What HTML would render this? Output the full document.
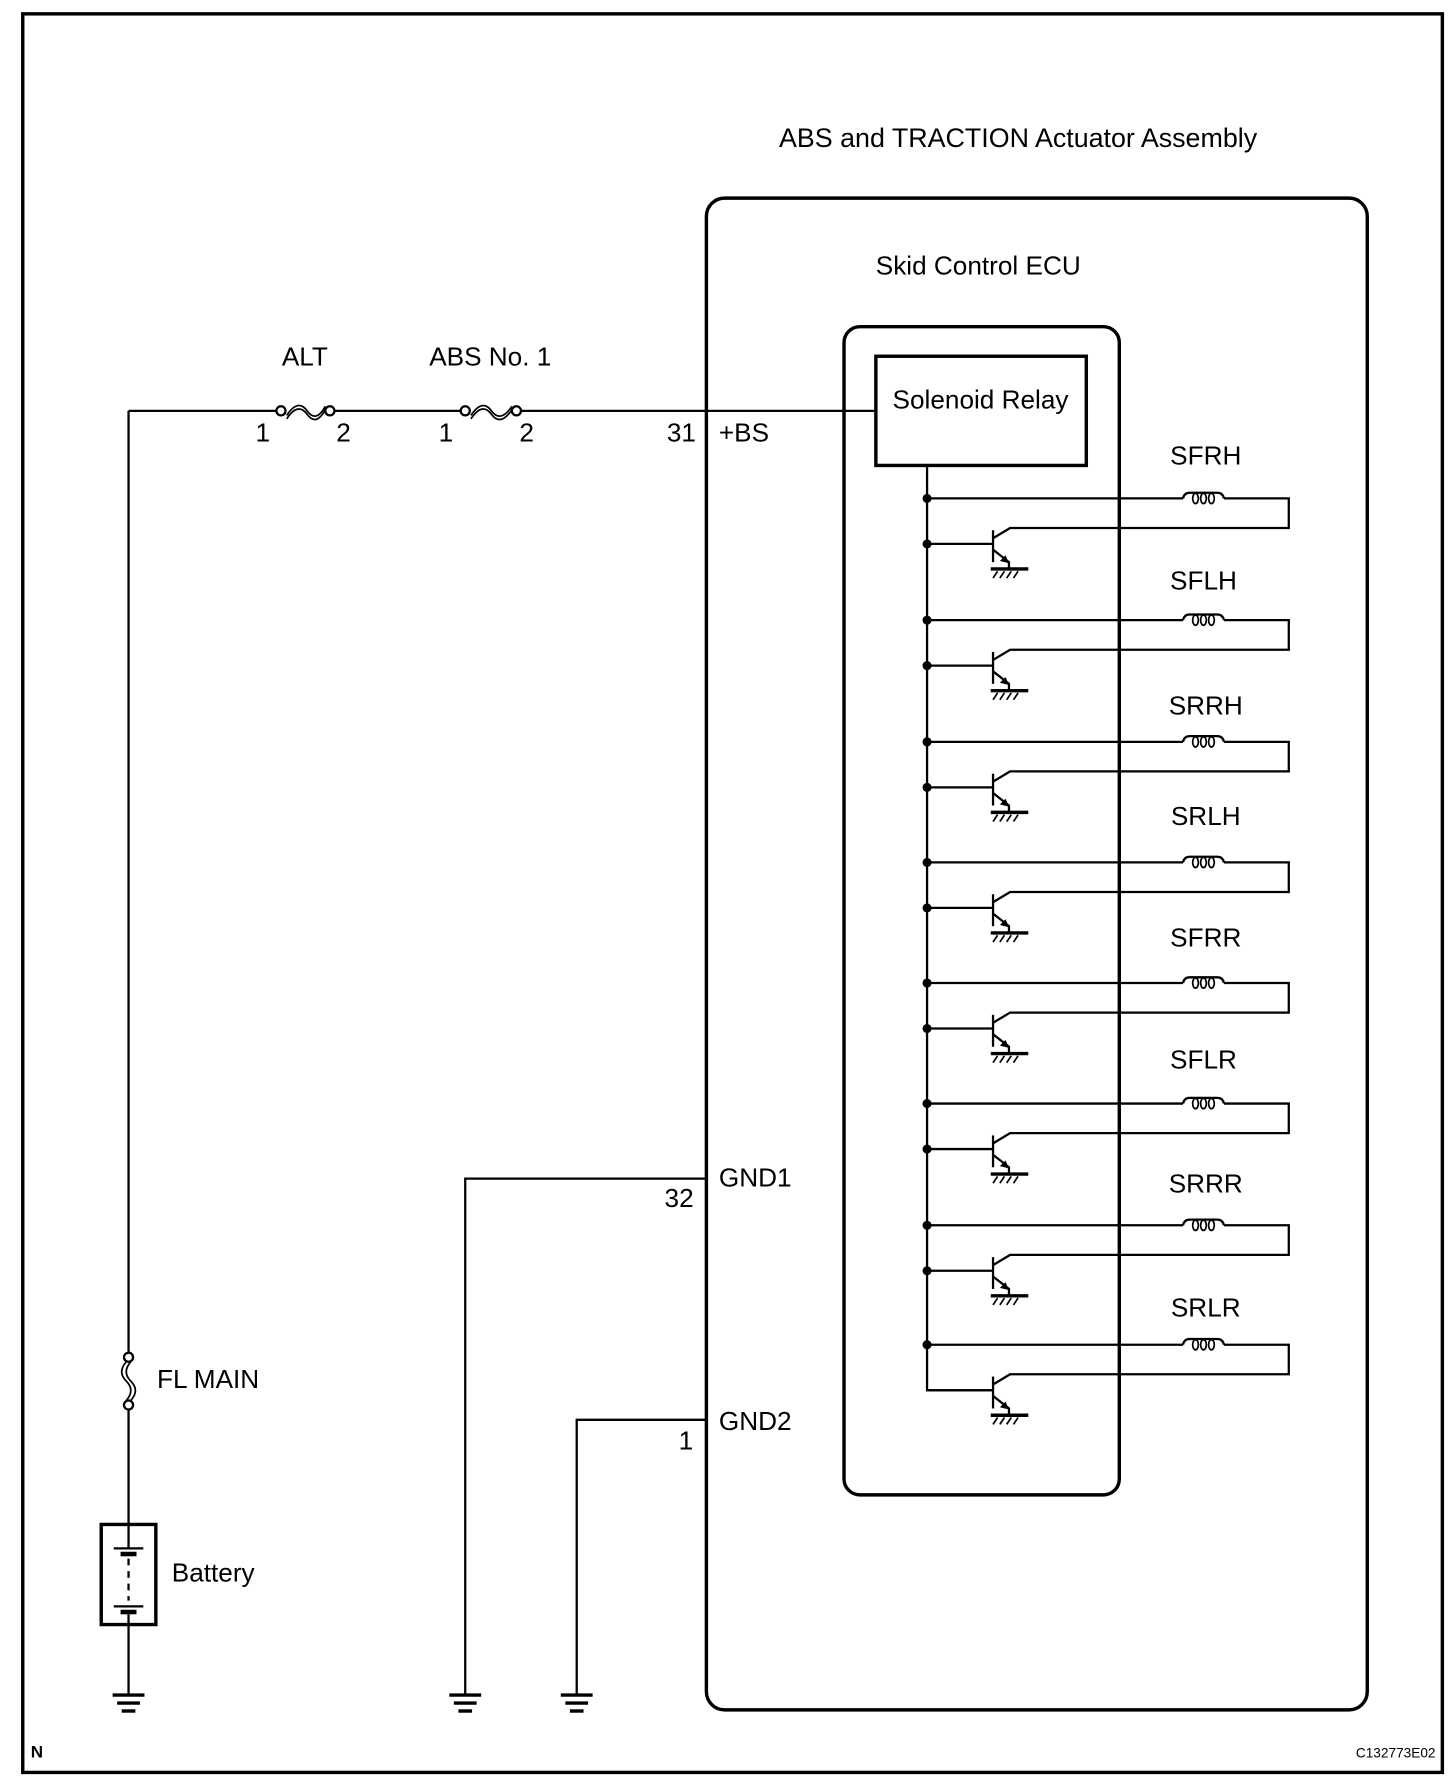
<!DOCTYPE html>
<html><head><meta charset="utf-8"><style>
html,body{margin:0;padding:0;background:#fff}
svg{display:block}
text{font-family:"Liberation Sans",Arial,sans-serif;fill:#000}
</style></head><body>
<svg width="1456" height="1784" viewBox="0 0 1280 1568" xmlns="http://www.w3.org/2000/svg">
<defs>
<g id="chb" fill="none" stroke="#000" stroke-width="2">
  <line x1="815" y1="0" x2="1040" y2="0"/>
  <path d="M1040 0 Q1041 -5 1046 -5 L1070 -5 Q1075 -5 1076 0"/>
  <ellipse cx="1051" cy="0" rx="2.5" ry="4.5" stroke-width="1.5"/>
  <ellipse cx="1058" cy="0" rx="2.5" ry="4.5" stroke-width="1.5"/>
  <ellipse cx="1065" cy="0" rx="2.5" ry="4.5" stroke-width="1.5"/>
  <polyline points="1076,0 1133,0 1133,26 888,26 873,35"/>
  <circle cx="815" cy="0" r="4" fill="#000" stroke="none"/>
  <line x1="815" y1="40" x2="873" y2="40"/>
  <line x1="873" y1="28" x2="873" y2="56"/>
  <polyline points="873,45 887,56 887,62"/>
  <polygon points="887,57 879,55 884,50" fill="#000" stroke="none"/>
  <line x1="871" y1="62" x2="904" y2="62" stroke-width="3"/>
  <path d="M877 64 L873 70 M883 64 L879 70 M889 64 L885 70 M895 64 L891 70" stroke-width="1.5"/>
</g>
<g id="ch">
  <use href="#chb"/>
  <circle cx="815" cy="40" r="4" fill="#000"/>
</g>
<g id="gnd" stroke="#000" stroke-width="3">
  <line x1="-14" y1="0" x2="14" y2="0"/>
  <line x1="-10" y1="7" x2="10" y2="7"/>
  <line x1="-6" y1="14" x2="6" y2="14"/>
</g>
</defs>
<rect x="20" y="12" width="1248" height="1546" fill="none" stroke="#000" stroke-width="3"/>
<text x="895" y="129" font-size="23.6" text-anchor="middle">ABS and TRACTION Actuator Assembly</text>
<rect x="621" y="174" width="581" height="1329" rx="16" fill="none" stroke="#000" stroke-width="3"/>
<text x="860" y="241" font-size="23" text-anchor="middle">Skid Control ECU</text>
<rect x="742" y="287" width="242" height="1027" rx="14" fill="none" stroke="#000" stroke-width="3"/>
<rect x="770" y="313" width="185" height="96" fill="none" stroke="#000" stroke-width="3"/>
<text x="862" y="359" font-size="23" text-anchor="middle">Solenoid Relay</text>
<g fill="none" stroke="#000" stroke-width="2">
  <line x1="113" y1="361" x2="243" y2="361"/>
  <line x1="294" y1="361" x2="405" y2="361"/>
  <line x1="458" y1="361" x2="770" y2="361"/>
  <circle cx="247" cy="361" r="4"/><circle cx="290" cy="361" r="4"/>
  <path d="M252 365 Q262 350 270 361 Q278 372 286 357 M252 368 Q262 353 270 364 Q278 375 286 360" stroke-width="1.5"/>
  <circle cx="409" cy="361" r="4"/><circle cx="454" cy="361" r="4"/>
  <path d="M414 365 Q424 350 432 361 Q440 372 450 357 M414 368 Q424 353 432 364 Q440 375 450 360" stroke-width="1.5"/>
  <line x1="113" y1="361" x2="113" y2="1189"/>
  <circle cx="113" cy="1193" r="4"/><circle cx="113" cy="1235" r="4"/>
  <path d="M111 1197 Q103 1206 111 1214 Q119 1222 111 1231 M115 1197 Q107 1206 115 1214 Q123 1222 115 1231" stroke-width="1.5"/>
  <line x1="113" y1="1239" x2="113" y2="1340"/>
  <rect x="89" y="1340" width="48" height="88" stroke-width="3"/>
  <line x1="113" y1="1340" x2="113" y2="1361"/>
  <line x1="100" y1="1361" x2="126" y2="1361"/>
  <line x1="106" y1="1366" x2="120" y2="1366" stroke-width="4"/>
  <line x1="113" y1="1370" x2="113" y2="1407" stroke-dasharray="6,5"/>
  <line x1="100" y1="1412" x2="126" y2="1412"/>
  <line x1="106" y1="1417" x2="120" y2="1417" stroke-width="4"/>
  <line x1="113" y1="1419" x2="113" y2="1490"/>
  <polyline points="621,1036 409,1036 409,1490"/>
  <polyline points="621,1248 507,1248 507,1490"/>
  <polyline points="815,409 815,1222 873,1222"/>
</g>
<use href="#gnd" x="113" y="1490"/>
<use href="#gnd" x="409" y="1490"/>
<use href="#gnd" x="507" y="1490"/>
<use href="#ch" y="438"/>
<use href="#ch" y="545"/>
<use href="#ch" y="652"/>
<use href="#ch" y="758"/>
<use href="#ch" y="864"/>
<use href="#ch" y="970"/>
<use href="#ch" y="1077"/>
<use href="#chb" y="1182"/>
<g font-size="23" text-anchor="middle">
  <text x="268" y="321">ALT</text>
  <text x="431" y="321">ABS No. 1</text>
  <text x="231" y="388">1</text><text x="302" y="388">2</text>
  <text x="392" y="388">1</text><text x="463" y="388">2</text>
  <text x="599" y="388">31</text>
  <text x="1060" y="408">SFRH</text>
  <text x="1058" y="518">SFLH</text>
  <text x="1060" y="628">SRRH</text>
  <text x="1060" y="725">SRLH</text>
  <text x="1060" y="832">SFRR</text>
  <text x="1058" y="939">SFLR</text>
  <text x="1060" y="1048">SRRR</text>
  <text x="1060" y="1157">SRLR</text>
  <text x="597" y="1061">32</text>
  <text x="603" y="1274">1</text>
</g>
<g font-size="23">
  <text x="632" y="388">+BS</text>
  <text x="632" y="1043">GND1</text>
  <text x="632" y="1257">GND2</text>
  <text x="138" y="1220">FL MAIN</text>
  <text x="151" y="1390">Battery</text>
</g>
<text x="27" y="1545" font-size="15" font-weight="bold">N</text>
<text x="1262" y="1545" font-size="12" text-anchor="end">C132773E02</text>
</svg>
</body></html>
